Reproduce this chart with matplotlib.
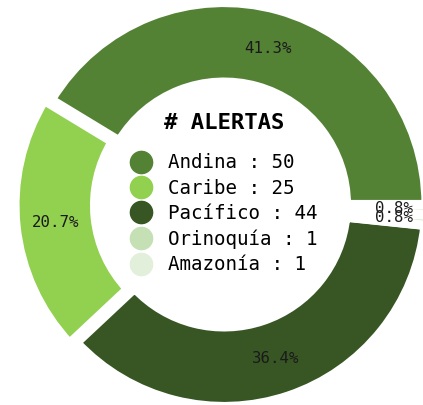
import matplotlib.pyplot as plt
from matplotlib.lines import Line2D

# alertas por región
regiones = ['Andina', 'Caribe', 'Pacífico', 'Orinoquía', 'Amazonía']
alertas = [50, 25, 44, 1, 1]
colores = ['#548235', '#92D050', '#375623', '#C5E0B4', '#E2EFDA']
separacion = [0, 0.035, 0, 0.04, 0.04]

plt.rcParams['font.family'] = 'DejaVu Sans Mono'

fig = plt.figure(figsize=(4.23, 4.05), dpi=100)
ax = fig.add_axes([0, 0, 1, 1])

wedges, textos, pcts = ax.pie(alertas, colors=colores, explode=separacion,
                              startangle=0, autopct='%1.1f%%', pctdistance=0.803,
                              wedgeprops=dict(width=0.394, edgecolor='white', linewidth=6.6),
                              textprops=dict(fontsize=11.3, color='#1a1a1a'))

# encuadre: el anillo queda un poco cortado a la derecha
esc = 202
cx, cy = 224, 204.5
ax.set_xlim(-cx / esc, (423 - cx) / esc)
ax.set_ylim(-(405 - cy) / esc, cy / esc)
ax.set_aspect('auto')
ax.axis('off')

# leyenda en el centro del anillo
handles = [Line2D([], [], marker='o', linestyle='', markersize=16, color=c) for c in colores]
etiquetas = [f'{r} : {a}' for r, a in zip(regiones, alertas)]
ax.legend(handles, etiquetas, loc='center', bbox_to_anchor=(0.53, 0.472),
          frameon=False, fontsize=13.75, labelspacing=0.33,
          handlelength=1.0, handletextpad=0.9)
ax.text(0.53, 0.696, '# ALERTAS', transform=ax.transAxes, ha='center', va='center',
        fontsize=16, fontweight='bold')

plt.savefig('out.png', dpi=100)
